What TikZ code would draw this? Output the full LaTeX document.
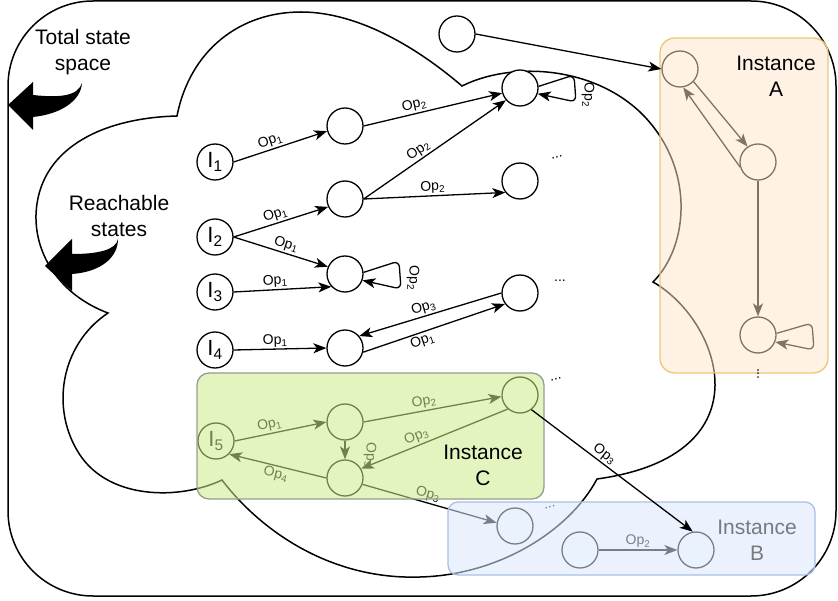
\documentclass[tikz,border=0pt]{standalone}
\usepackage{fontspec}
\setmainfont{Liberation Sans}
\usetikzlibrary{arrows.meta}
\definecolor{Afill}{RGB}{255,230,204}
\definecolor{Aline}{RGB}{232,200,115}
\definecolor{Cfill}{RGB}{205,235,139}
\definecolor{Cline}{RGB}{150,156,145}
\definecolor{Bfill}{RGB}{218,232,252}
\definecolor{Bline}{RGB}{170,192,225}
\definecolor{Btext}{RGB}{120,122,128}
\begin{document}
\begin{tikzpicture}[x=1pt,y=-1pt,
  st/.style={circle,draw=black,fill=white,line width=1.3pt,minimum size=36pt,inner sep=0pt,font=\fontsize{22}{22}\selectfont},
  ed/.style={line width=1.3pt,-{Stealth[length=13pt,width=10pt,inset=3.5pt]}},
  op/.style={font=\fontsize{14}{14}\selectfont,inner sep=1.5pt},
  big/.style={font=\fontsize{21}{26}\selectfont,align=center,inner sep=0pt},
  dts/.style={font=\fontsize{14}{14}\selectfont,inner sep=0pt},
  outerframe/.style={line width=1.5pt},
  boxline/.style={line width=1.3pt},
]
\useasboundingbox (0,0) rectangle (838,601);
% total state space frame
\draw[outerframe, rounded corners=85pt] (8,1) rectangle (836,596);
% reachable-states cloud
\draw[outerframe, line join=miter]
  (177,116) .. controls (190,50) and (240,12) .. (301,12)
            .. controls (360,12) and (420,50) .. (462,86)
            .. controls (510,62) and (590,65) .. (640,112)
            .. controls (695,165) and (690,245) .. (653,282)
            .. controls (720,320) and (770,455) .. (597,479)
            .. controls (570,530) and (500,575) .. (420,577)
            .. controls (330,580) and (260,530) .. (222,480)
            .. controls (180,500) and (110,500) .. (80,455)
            .. controls (50,410) and (60,345) .. (108,313)
            .. controls (60,295) and (35,255) .. (36,215)
            .. controls (38,150) and (100,118) .. (177,116) -- cycle;
% big curved arrows
\fill (8,105) -- (33,82) -- (33,95) .. controls (60,98) and (78,96) .. (82,83)
  .. controls (81,100) and (62,114) .. (33,117) -- (33,130) -- cycle;
\fill (45,266) -- (72,239) -- (72,254) .. controls (98,254) and (116,250) .. (118,239)
  .. controls (118,258) and (100,272) .. (72,274) -- (72,291) -- cycle;
\node[big] (tss) at (83,52) {Total state\\space};
\node[big] (rs) at (119,216) {Reachable\\states};
% main states
\node[st] (I1) at (215,162) {I\textsubscript{1}};
\node[st] (I2) at (215,237) {I\textsubscript{2}};
\node[st] (I3) at (215,292) {I\textsubscript{3}};
\node[st] (I4) at (215,350) {I\textsubscript{4}};
\node[st] (a1) at (345,126) {};
\node[st] (a2) at (345,199) {};
\node[st] (a3) at (345,274) {};
\node[st] (a4) at (345,348) {};
\node[st] (b1) at (520,88) {};
\node[st] (b2) at (520,181) {};
\node[st] (b3) at (520,293) {};
\node[st] (T) at (457,34) {};
\draw[ed] (I1.east) -- (a1.196) node[op,pos=0.42,above,sloped]{Op\textsubscript{1}};
\draw[ed] (I2.east) -- (a2.205) node[op,pos=0.47,above,sloped]{Op\textsubscript{1}};
\draw[ed] (I2.east) -- (a3.157) node[op,pos=0.53,above,sloped]{Op\textsubscript{1}};
\draw[ed] (I3.east) -- (a3.223) node[op,pos=0.43,above,sloped]{Op\textsubscript{1}};
\draw[ed] (I4.east) -- (a4.west) node[op,pos=0.45,above,sloped]{Op\textsubscript{1}};
\draw[ed] (a1.east) -- (b1.196) node[op,pos=0.38,above,sloped]{Op\textsubscript{2}};
\draw[ed] (a2.east) -- (b1.221) node[op,pos=0.42,above,sloped]{Op\textsubscript{2}};
\draw[ed] (a2.east) -- (b2.218) node[op,pos=0.49,above,sloped]{Op\textsubscript{2}};
\draw[ed] (a4.-13) -- (b3.216) node[op,pos=0.4,below,sloped]{Op\textsubscript{1}};
\draw[ed] (b3.180) -- (a4.40) node[op,pos=0.53,above,sloped]{Op\textsubscript{3}};
\draw[ed,rounded corners=6pt] (a3.5) -- (399,261) -- (401,289) -- (a3.-20);
\node[op,rotate=-90] (l1) at (413,278) {Op\textsubscript{2}};
\draw[ed,rounded corners=6pt] (b1.5) -- (574,75) -- (576,102) -- (b1.-18);
\node[op,rotate=-90] (l2) at (588,95) {Op\textsubscript{2}};
\node[dts,rotate=15] (d1) at (557,157) {...};
\node[dts] (d2) at (560,281) {...};
\node[dts,rotate=15] (d3) at (556,379) {...};
% instance C
\node[st] (I5) at (216,441) {I\textsubscript{5}};
\node[st] (C1) at (345,422) {};
\node[st] (C2) at (345,478) {};
\node[st] (C3) at (520,395) {};
\draw[ed] (I5.east) -- (C1.west) node[op,pos=0.4,above,sloped]{Op\textsubscript{1}};
\draw[ed] (C1.east) -- (C3.185) node[op,pos=0.45,above,sloped]{Op\textsubscript{2}};
\draw[ed] (C3.229) -- (C2.30) node[op,pos=0.6,above,sloped]{Op\textsubscript{3}};
\draw[ed] (C1.south) -- (C2.north);
\node[op,rotate=-90] (l3) at (370,455) {Op\textsubscript{3}};
\draw[ed] (C2.west) -- (I5.-45) node[op,pos=0.5,below,sloped]{Op\textsubscript{4}};
% instance B
\node[st] (B1) at (515,526) {};
\node[st] (B2) at (580,550) {};
\node[st] (B3) at (696,550) {};
\draw[ed] (C2.-20) -- (B1.170) node[op,pos=0.47,above,sloped]{Op\textsubscript{3}};
\draw[ed] (B2.east) -- (B3.west) node[op,midway,above]{Op\textsubscript{2}};
\node[dts,rotate=20] (d4) at (550,507) {...};
% instance A
\node[st] (A1) at (680,69) {};
\node[st] (A2) at (758,162) {};
\node[st] (A3) at (758,335) {};
\draw[ed] (A1.-43) -- (A2.124);
\draw[ed] (A2.196) -- (A1.-80);
\draw[ed] (A2.south) -- (A3.north);
\draw[ed,rounded corners=6pt] (A3.5) -- (812,323) -- (814,350) -- (A3.-22);
% translucent instance boxes
\fill[Afill, fill opacity=0.5, rounded corners=15pt] (660,38) rectangle (828,373);
\draw[Aline, boxline, rounded corners=15pt] (660,38) rectangle (828,373);
\fill[Cfill, fill opacity=0.55, rounded corners=12pt] (197,373) rectangle (544,499);
\draw[Cline, boxline, rounded corners=12pt] (197,373) rectangle (544,499);
\fill[Bfill, fill opacity=0.55, rounded corners=10pt] (448,502) rectangle (815,575);
\draw[Bline, boxline, rounded corners=10pt] (448,502) rectangle (815,575);
\node[big] (Alab) at (776,76) {Instance\\A};
\node[big] (Clab) at (483,465) {Instance\\C};
\node[big,text=Btext] (Blab) at (757,540) {Instance\\B};
% connectors on top
\draw[ed] (T.east) -- (A1.west);
\draw[ed] (C3.-52) -- (B3.100) node[op,pos=0.42,above,sloped]{Op\textsubscript{3}};
\node[dts,rotate=90] (d5) at (758,374) {...};
\end{tikzpicture}
\end{document}
